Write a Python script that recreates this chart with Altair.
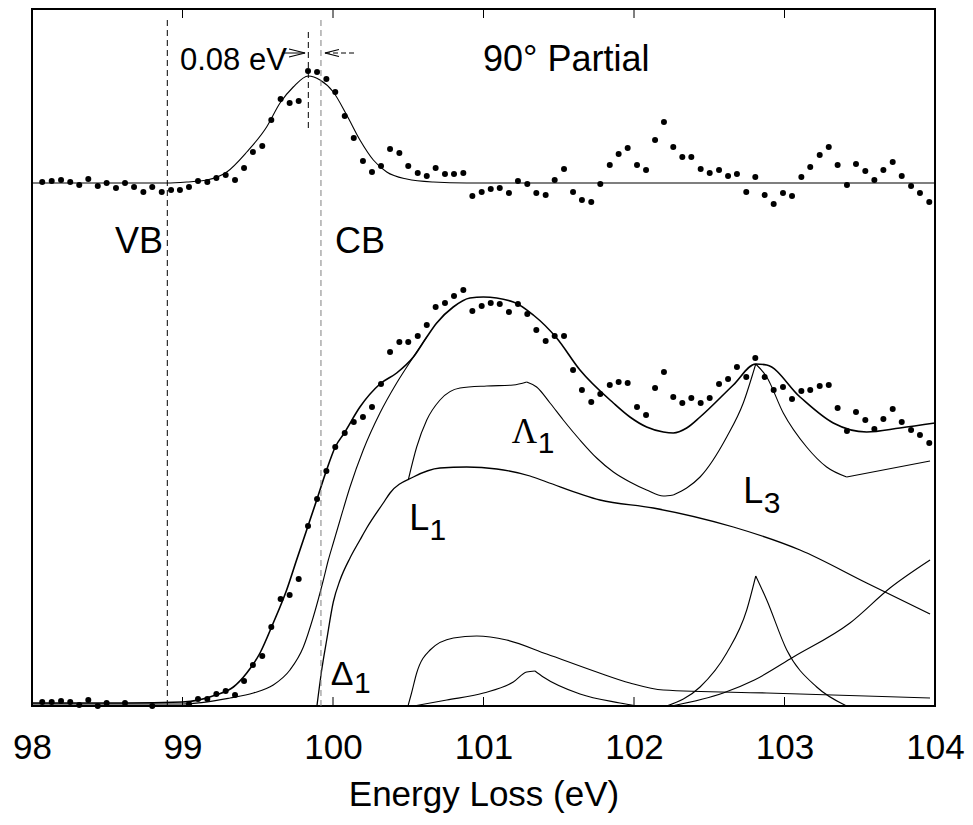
import altair as alt
import pandas as pd

# ---------------- data ----------------
X_DOMAIN = [98, 104]
Y_DOMAIN = [0, 697]          # arbitrary intensity units
TICKS = [98, 99, 100, 101, 102, 103, 104]
INNER_TICKS = [99, 100, 101, 102, 103]

energy = [98.068, 98.131, 98.193, 98.254, 98.314, 98.374, 98.437, 98.496, 98.558, 98.618,
          98.678, 98.740, 98.799, 98.862, 98.924, 98.983, 99.043, 99.103, 99.165, 99.225,
          99.287, 99.349, 99.409, 99.468, 99.530, 99.590, 99.652, 99.712, 99.772, 99.834,
          99.894, 99.956, 100.015, 100.078, 100.138, 100.199, 100.259, 100.319, 100.379, 100.441,
          100.500, 100.563, 100.623, 100.682, 100.744, 100.804, 100.866, 100.926, 100.988, 101.048,
          101.108, 101.169, 101.229, 101.291, 101.351, 101.413, 101.473, 101.535, 101.595, 101.654,
          101.716, 101.776, 101.839, 101.898, 101.958, 102.020, 102.080, 102.140, 102.199, 102.261,
          102.321, 102.381, 102.443, 102.503, 102.565, 102.625, 102.684, 102.746, 102.806, 102.868,
          102.928, 102.990, 103.050, 103.112, 103.171, 103.234, 103.294, 103.353, 103.415, 103.475,
          103.537, 103.597, 103.657, 103.719, 103.779, 103.841, 103.900, 103.962]

partial_counts = [524, 525, 526, 524, 521, 527, 520, 523, 518, 523,
                  519, 514, 519, 514, 516, 516, 519, 525, 524, 528,
                  531, 526, 538, 554, 560, 586, 607, 603, 605, 635,
                  634, 627, 614, 590, 568, 545, 534, 540, 557, 553,
                  540, 533, 530, 538, 532, 532, 533, 510, 514, 517,
                  518, 513, 525, 522, 513, 511, 526, 537, 514, 506,
                  504, 522, 541, 552, 558, 541, 536, 566, 584, 559,
                  549, 549, 537, 533, 536, 530, 532, 514, 529, 511,
                  502, 513, 510, 529, 539, 551, 559, 541, 521, 542,
                  535, 526, 536, 544, 530, 520, 513, 504]

total_counts = [4, 4, 5, 4, 1, 6, 0, 3, None, 3,
                None, None, 0, None, None, None, 2, 7, 7, 12,
                15, 11, 25, 41, 50, 79, 107, 111, 127, 180,
                207, 235, 259, 273, 284, 289, 299, 322, 354, 364,
                364, 370, 381, 399, 403, 410, 416, 395, 400, 403,
                402, 394, 402, 392, 376, 365, 370, 370, 336, 316,
                304, 312, 321, 324, 323, 299, 291, 318, 334, 309,
                303, 308, 303, 308, 322, 327, 339, 329, 348, 329,
                316, 319, 307, 315, 316, 320, 321, 298, 275, 294,
                286, 277, 287, 297, 284, 276, 271, 263]

partial_fit_x = [98.0, 98.895, 99.028, 99.161, 99.294, 99.427, 99.559, 99.648, 99.736, 99.836,
                 99.914, 100.002, 100.091, 100.179, 100.268, 100.357, 100.490, 100.666, 100.888, 104.0]
partial_fit_y = [523, 523, 524, 526, 534, 554, 579, 603, 619, 630,
                 626, 614, 591, 566, 546, 534, 527, 524, 523, 523]

fit_x = [98.0, 98.618, 99.0, 99.221, 99.338, 99.427, 99.515, 99.603, 99.692, 99.758,
         99.834, 99.894, 99.953, 100.015, 100.075, 100.179, 100.312, 100.423, 100.534, 100.623,
         100.689, 100.799, 100.910, 100.999, 101.198, 101.331, 101.486, 101.641, 101.863, 101.973,
         102.084, 102.195, 102.261, 102.350, 102.439, 102.660, 102.809, 102.882, 103.103, 103.324,
         103.546, 103.767, 104.0]
fit_y = [3, 3, 4, 11, 19, 33, 53, 83, 116, 146,
         180, 207, 234, 259, 273, 299, 322, 333, 349, 369,
         383, 399, 408, 409, 404, 391, 368, 336, 303, 289,
         279, 274, 273, 278, 289, 321, 342, 341, 309, 283,
         274, 278, 283]

onset_x = [98.0, 99.0, 99.316, 99.471, 99.603, 99.714, 99.803, 99.869, 99.936, 99.969,
           100.002, 100.047, 100.113, 100.201, 100.312, 100.423, 100.534, 100.623]
onset_y = [2, 2, 8, 13, 21, 36, 59, 89, 126, 146,
           163, 186, 219, 256, 293, 323, 349, 369]

lambda_x = [100.500, 100.556, 100.623, 100.711, 100.844, 101.021, 101.198, 101.287, 101.353, 101.442,
            101.530, 101.641, 101.752, 101.863, 101.973, 102.084, 102.195, 102.261, 102.350, 102.439,
            102.616, 102.726, 102.809, 102.882, 102.992, 103.147, 103.280, 103.413, 103.967]
lambda_y = [226, 259, 286, 306, 318, 320, 321, 324, 319, 303,
            286, 266, 248, 234, 224, 216, 210, 211, 218, 229,
            269, 303, 342, 329, 293, 259, 239, 229, 245]
lambda_cusps = [101.287, 102.261, 102.809, 103.413]

l1_x = [99.894, 99.925, 99.958, 100.002, 100.047, 100.113, 100.179, 100.224, 100.334, 100.379,
        100.534, 100.711, 100.888, 101.088, 101.309, 101.420, 101.774, 102.128, 102.660, 103.103,
        103.546, 103.967]
l1_y = [1, 36, 66, 104, 126, 148, 166, 178, 203, 213,
        229, 238, 239, 237, 230, 224, 206, 198, 179, 156,
        123, 92]

delta_x = [100.500, 100.522, 100.556, 100.645, 100.800, 100.955, 101.154, 101.420, 101.752, 101.973,
           102.195, 102.882, 103.967]
delta_y = [1, 13, 33, 56, 68, 70, 66, 52, 34, 23,
           16, 13, 8]

bump_x = [100.534, 100.756, 101.000, 101.198, 101.287, 101.342, 101.397, 101.641, 101.907, 102.018]
bump_y = [0, 6, 13, 24, 34, 35, 29, 12, 3, 0]
bump_cusps = [101.342]

l3_x = [102.217, 102.439, 102.616, 102.749, 102.809, 102.882, 103.015, 103.214, 103.413]
l3_y = [0, 19, 53, 96, 130, 106, 56, 19, 0]
l3_cusps = [102.809]

rise_x = [102.250, 102.593, 102.800, 103.059, 103.435, 103.701, 103.967]
rise_y = [0, 13, 26, 49, 83, 118, 146]

# ---------------- tables ----------------
def segments(name, xs, ys, breaks, width):
    rows, seg = [], 0
    for i, (x, y) in enumerate(zip(xs, ys)):
        rows.append({"x": x, "y": y, "seg": f"{name}-{seg}", "w": width})
        if x in breaks and 0 < i < len(xs) - 1:
            seg += 1
            rows.append({"x": x, "y": y, "seg": f"{name}-{seg}", "w": width})
    return rows

curve_rows = []
curve_rows += segments("partialfit", partial_fit_x, partial_fit_y, [], 1.1)
curve_rows += segments("fit", fit_x, fit_y, [], 1.6)
curve_rows += segments("onset", onset_x, onset_y, [], 1.1)
curve_rows += segments("lambda", lambda_x, lambda_y, lambda_cusps, 1.1)
curve_rows += segments("l1", l1_x, l1_y, [], 1.3)
curve_rows += segments("delta", delta_x, delta_y, [], 1.1)
curve_rows += segments("bump", bump_x, bump_y, bump_cusps, 1.1)
curve_rows += segments("l3", l3_x, l3_y, l3_cusps, 1.1)
curve_rows += segments("rise", rise_x, rise_y, [], 1.1)
curves = pd.DataFrame(curve_rows)

pts = pd.DataFrame(
    [{"x": e, "y": v} for e, v in zip(energy, partial_counts)]
    + [{"x": e, "y": v} for e, v in zip(energy, total_counts) if v is not None]
)

xs = alt.Scale(domain=X_DOMAIN, nice=False, zero=False)
ys = alt.Scale(domain=Y_DOMAIN, nice=False, zero=False)
X = lambda f="x": alt.X(f"{f}:Q", scale=xs)
Y = lambda f="y": alt.Y(f"{f}:Q", scale=ys, axis=None)

SANS = "Liberation Sans"
SERIF = "Liberation Serif"

base_axis = alt.Axis(values=TICKS, format="d", tickSize=0, domain=False, grid=False,
                     labelFontSize=35, labelFont=SANS, labelColor="black", labelPadding=24,
                     labelFlush=False, title="Energy Loss (eV)", titleFont=SANS,
                     titleFontSize=35, titleFontWeight="normal", titleColor="black",
                     titleBaseline="alphabetic", titleY=99)

lines = alt.Chart(curves).mark_line(color="black", interpolate="monotone", clip=True).encode(
    x=alt.X("x:Q", scale=xs, axis=base_axis),
    y=Y(),
    detail="seg:N",
    strokeWidth=alt.StrokeWidth("w:Q", scale=None),
)

points = alt.Chart(pts).mark_circle(color="black", size=36, opacity=1).encode(x=X(), y=Y())

# dashed markers
vlines = pd.DataFrame([
    {"x": 98.899, "y": 0, "y2": 686, "c": "black"},
    {"x": 99.920, "y": 0, "y2": 686, "c": "#808080"},
    {"x": 99.836, "y": 578, "y2": 678, "c": "black"},
])
dashed = alt.Chart(vlines).mark_rule(strokeDash=[6, 4], strokeWidth=1).encode(
    x=X(), y=Y(), y2="y2:Q", color=alt.Color("c:N", scale=None))

# arrows for 0.08 eV
shafts = pd.DataFrame([{"x": 99.660, "x2": 99.814, "y": 653}])
shaft_solid = alt.Chart(shafts).mark_rule(color="black", strokeWidth=1).encode(x=X(), x2="x2:Q", y=Y())
shafts2 = pd.DataFrame([{"x": 99.947, "x2": 100.146, "y": 653}])
shaft_dash = alt.Chart(shafts2).mark_rule(color="black", strokeWidth=1, strokeDash=[5, 3]).encode(
    x=X(), x2="x2:Q", y=Y())
head_r = alt.Chart(pd.DataFrame([{"x": 99.761, "y": 653}])).mark_point(
    shape="M-1,-0.5L1,0L-1,0.5", filled=False, color="black", size=256, strokeWidth=1.2, opacity=1
).encode(x=X(), y=Y())
head_l = alt.Chart(pd.DataFrame([{"x": 99.993, "y": 653}])).mark_point(
    shape="M1,-0.5L-1,0L1,0.5", filled=False, color="black", size=196, strokeWidth=1.2, opacity=1
).encode(x=X(), y=Y())

# frame ticks (inward)
tick_df = pd.DataFrame({"x": INNER_TICKS})
top_ticks = alt.Chart(tick_df).mark_rule(color="black", strokeWidth=1).encode(
    x=X(), y=alt.value(0), y2=alt.value(9))
bot_ticks = alt.Chart(tick_df).mark_rule(color="black", strokeWidth=1).encode(
    x=X(), y=alt.value(688), y2=alt.value(697))

def label(text, x, y, size, font=SANS):
    return alt.Chart(pd.DataFrame([{"x": x, "y": y, "t": text}])).mark_text(
        align="left", baseline="alphabetic", font=font, fontSize=size, color="black"
    ).encode(x=X(), y=Y(), text="t:N")

labels = [
    label("0.08 eV", 98.983, 636, 31),
    label("90° Partial", 100.997, 635, 36),
    label("VB", 98.551, 453, 36),
    label("CB", 100.013, 453, 36),
    label("Λ", 101.187, 263, 35, SERIF),
    label("1", 101.360, 253, 30),
    label("L", 100.507, 176, 36),
    label("1", 100.642, 166, 30),
    label("L", 102.726, 203, 36),
    label("3", 102.862, 193, 30),
    label("Δ", 99.985, 21, 34),
    label("1", 100.140, 13, 30),
]

chart = alt.layer(
    lines, points, dashed, shaft_solid, shaft_dash, head_r, head_l, top_ticks, bot_ticks, *labels
).properties(
    width=903, height=697,
    padding={"left": 24, "top": 1, "right": 30, "bottom": 111},
    autosize=alt.AutoSizeParams(type="none"),
    background="white",
).configure_view(stroke="black", strokeWidth=2)

chart.save("out.html", embed_options={"renderer": "svg", "actions": False})
